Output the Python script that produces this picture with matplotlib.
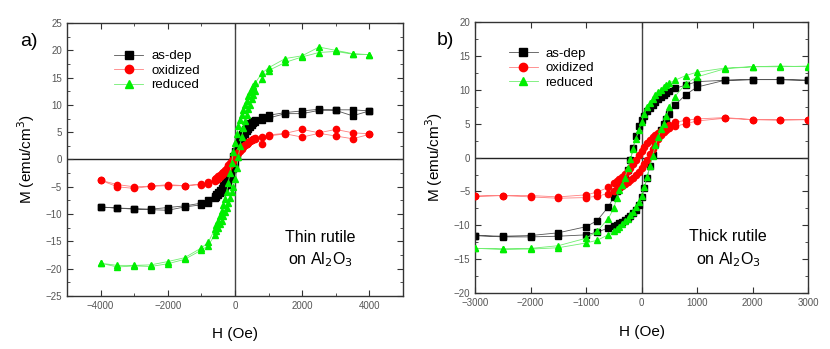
import matplotlib
matplotlib.use("Agg")
import matplotlib.pyplot as plt
from matplotlib.ticker import MultipleLocator

# ---- panel a: thin rutile (field sweep 4000 -> -4000, then back) ----
H_a_down = [4000, 3500, 3000, 2500, 2000, 1500, 1000, 800,
            600, 550, 500, 450, 400, 350, 300, 250, 200, 150, 100, 50, 0,
            -50, -100, -150, -200, -250, -300, -350, -400, -450, -500, -550, -600,
            -800, -1000, -1500, -2000, -2500, -3000, -3500, -4000]
H_a_up = H_a_down[::-1]

asdep_a_down = [8.9, 9.1, 9.1, 9.2, 8.9, 8.6, 8.1, 7.7,
                7.3, 7.1, 6.9, 6.6, 6.3, 6.0, 5.6, 5.2, 4.7, 4.1, 3.4, 2.6, 1.6,
                0.6, -0.5, -1.6, -2.6, -3.4, -4.1, -4.7, -5.2, -5.6, -6.0, -6.3, -6.6,
                -7.4, -8.0, -8.5, -8.8, -9.1, -9.0, -8.9, -8.7]
asdep_a_up = [-8.7, -8.9, -9.1, -9.2, -9.3, -8.7, -8.3, -7.9,
              -7.1, -6.8, -6.5, -6.2, -5.9, -5.5, -5.1, -4.6, -4.1, -3.5, -2.7, -1.8, -0.8,
              0.4, 1.5, 2.5, 3.4, 4.1, 4.7, 5.2, 5.6, 6.0, 6.3, 6.6, 6.9,
              7.2, 7.6, 8.4, 8.4, 9.0, 9.0, 8.0, 8.9]

oxid_a_down = [4.7, 4.9, 5.5, 4.9, 5.5, 4.8, 4.5, 4.2,
               3.9, 3.7, 3.5, 3.3, 3.1, 2.9, 2.7, 2.4, 2.1, 1.8, 1.4, 1.0, 0.6,
               0.1, -0.3, -0.7, -1.1, -1.5, -1.9, -2.2, -2.5, -2.8, -3.1, -3.4, -3.6,
               -4.2, -4.6, -4.8, -4.6, -4.9, -5.0, -4.6, -3.8]
oxid_a_up = [-3.8, -5.0, -5.3, -4.9, -4.8, -4.8, -4.5, -4.5,
             -3.9, -3.7, -3.5, -3.2, -2.9, -2.6, -2.3, -1.9, -1.5, -1.1, -0.6, -0.2, 0.3,
             0.8, 1.2, 1.6, 2.0, 2.3, 2.6, 2.9, 3.2, 3.4, 3.6, 3.7, 3.8,
             2.9, 4.3, 4.7, 4.1, 4.8, 4.3, 3.8, 4.6]

red_a_down = [19.2, 19.4, 20.0, 20.6, 19.0, 18.5, 16.8, 15.8,
              14.0, 13.5, 13.0, 12.4, 11.7, 10.8, 10.0, 9.1, 8.2, 7.2, 6.2, 4.6, 3.0,
              1.3, -0.6, -2.5, -4.3, -6.0, -7.2, -8.4, -9.5, -10.3, -11.3, -12.0, -12.8,
              -15.2, -16.2, -18.0, -18.7, -19.3, -19.4, -19.4, -19.0]
red_a_up = [-19.0, -19.7, -19.5, -19.6, -19.1, -18.3, -16.6, -15.8,
            -13.8, -13.1, -12.5, -11.9, -11.2, -10.4, -9.6, -8.8, -7.9, -7.0, -6.0, -5.0, -3.6,
            -1.6, 0.5, 2.4, 4.2, 5.8, 7.0, 8.2, 9.2, 10.0, 11.0, 11.8, 12.6,
            14.8, 16.3, 17.8, 18.8, 19.6, 19.8, 19.3, 19.2]

# ---- panel b: thick rutile (field sweep 3000 -> -3000, then back) ----
H_b_down = [3000, 2500, 2000, 1500, 1000, 800, 600,
            500, 450, 400, 350, 300, 250, 200, 150, 100, 50, 0,
            -50, -100, -150, -200, -250, -300, -350, -400, -450, -500,
            -600, -800, -1000, -1500, -2000, -2500, -3000]
H_b_up = H_b_down[::-1]

asdep_b_down = [11.4, 11.5, 11.5, 11.4, 11.2, 10.7, 10.2,
                9.8, 9.5, 9.2, 8.9, 8.6, 8.2, 7.8, 7.3, 6.8, 6.2, 5.5,
                4.6, 3.2, 1.4, -0.4, -1.9, -2.7, -3.5, -4.3, -5.0, -5.8,
                -7.3, -9.3, -10.2, -11.1, -11.5, -11.6, -11.5]
asdep_b_up = [-11.5, -11.7, -11.7, -11.6, -11.4, -11.0, -10.4,
              -10.1, -9.9, -9.7, -9.5, -9.2, -8.9, -8.6, -8.2, -7.7, -7.0, -5.8,
              -4.5, -3.0, -1.2, 0.4, 2.0, 3.2, 4.1, 4.9, 5.7, 6.5,
              7.7, 9.3, 10.4, 11.4, 11.5, 11.5, 11.4]

oxid_b_down = [5.6, 5.6, 5.6, 5.9, 5.7, 5.5, 5.2,
               4.8, 4.5, 4.2, 3.9, 3.6, 3.3, 3.0, 2.6, 2.1, 1.6, 1.0,
               0.4, -0.3, -0.9, -1.5, -2.0, -2.4, -2.8, -3.2, -3.5, -3.8,
               -4.4, -5.1, -5.5, -5.8, -5.6, -5.6, -5.7]
oxid_b_up = [-5.7, -5.6, -5.8, -6.0, -5.9, -5.7, -5.3,
             -5.0, -4.7, -4.5, -4.2, -3.9, -3.6, -3.3, -3.0, -2.6, -2.2, -1.6,
             -1.0, -0.4, 0.5, 1.3, 2.0, 2.8, 3.3, 3.7, 4.0, 4.3,
             4.6, 5.0, 5.4, 5.8, 5.6, 5.5, 5.6]

red_b_down = [13.4, 13.5, 13.4, 13.2, 12.6, 12.1, 11.4,
              11.0, 10.7, 10.4, 10.0, 9.6, 9.2, 8.7, 8.1, 7.4, 6.5, 5.2,
              4.0, 2.8, 1.3, -0.2, -1.6, -3.0, -4.0, -4.8, -6.0, -7.5,
              -9.0, -10.9, -11.9, -13.0, -13.4, -13.5, -13.4]
red_b_up = [-13.4, -13.5, -13.5, -13.3, -12.6, -12.2, -11.4,
            -10.8, -10.5, -10.2, -9.8, -9.4, -9.0, -8.5, -8.0, -7.3, -6.6, -5.7,
            -4.3, -2.8, -1.3, 0.2, 1.8, 3.0, 4.2, 5.0, 6.2, 7.5,
            9.0, 10.9, 11.9, 13.1, 13.4, 13.4, 13.5]

labels = ["as-dep", "oxidized", "reduced"]
colors = ["black", "#ff0000", "#00ee00"]
lcolors = ["#555555", "#ff8080", "#70ee70"]
markers = ["s", "o", "^"]

plt.rcParams["font.family"] = ["Liberation Sans", "DejaVu Sans"]

fig = plt.figure(figsize=(8.3, 3.49), dpi=100)
ax_a = fig.add_axes([0.0807, 0.152, 0.4048, 0.782])
ax_b = fig.add_axes([0.5723, 0.160, 0.4012, 0.777])

series_a = [(asdep_a_down, asdep_a_up), (oxid_a_down, oxid_a_up), (red_a_down, red_a_up)]
series_b = [(asdep_b_down, asdep_b_up), (oxid_b_down, oxid_b_up), (red_b_down, red_b_up)]

for ax, Hd, Hu, series in [(ax_a, H_a_down, H_a_up, series_a), (ax_b, H_b_down, H_b_up, series_b)]:
    ax.axhline(0, color="#222222", lw=1.0, zorder=1)
    ax.axvline(0, color="#444444", lw=1.0, zorder=1)
    for i, ((down, up), c, lc, m, lab) in enumerate(zip(series, colors, lcolors, markers, labels)):
        ax.plot(Hd + Hu, down + up, color=lc, lw=0.6, zorder=2 + i)
        ax.plot(Hd + Hu, down + up, ls="none", marker=m, color=c, ms=4.5, mec=c, zorder=2.5 + i)
        # legend proxy
        ax.plot([], [], color=lc, lw=0.6, marker=m, mfc=c, mec=c, ms=6, label=lab)
    ax.tick_params(which="both", direction="in", top=True, right=True,
                   labelsize=7, labelcolor="#555555", color="#333333")
    ax.tick_params(which="major", length=4)
    ax.tick_params(which="minor", length=2.5)
    for s in ax.spines.values():
        s.set_color("#333333")
        s.set_linewidth(1.0)
    ax.set_xlabel("H (Oe)", fontsize=11, labelpad=12)
    ax.set_ylabel("M (emu/cm$^3$)", fontsize=11, labelpad=6)
    ax.yaxis.set_major_locator(MultipleLocator(5))
    ax.yaxis.set_minor_locator(MultipleLocator(2.5))
    handles, labs = ax.get_legend_handles_labels()
    ax.legend(handles[-3:], labs[-3:], frameon=False, fontsize=9.5, loc="upper left",
              handlelength=2.2, labelspacing=0.18, handletextpad=0.6)

ax_a.set_xlim(-5000, 5000)
ax_a.set_ylim(-25, 25)
ax_a.xaxis.set_major_locator(MultipleLocator(2000))
ax_a.xaxis.set_minor_locator(MultipleLocator(1000))
ax_a.legend_.set_bbox_to_anchor((0.105, 0.945))

ax_b.set_xlim(-3000, 3000)
ax_b.set_ylim(-20, 20)
ax_b.xaxis.set_major_locator(MultipleLocator(1000))
ax_b.legend_.set_bbox_to_anchor((0.065, 0.95))

ax_a.text(2530, -14.2, "Thin rutile", ha="center", va="center", fontsize=11.5)
ax_a.text(2530, -18.4, "on Al$_2$O$_3$", ha="center", va="center", fontsize=11.5)
ax_b.text(1560, -11.7, "Thick rutile", ha="center", va="center", fontsize=11.5)
ax_b.text(1560, -15.0, "on Al$_2$O$_3$", ha="center", va="center", fontsize=11.5)

fig.text(0.024, 0.868, "a)", fontsize=14)
fig.text(0.526, 0.872, "b)", fontsize=14)

fig.savefig("out.png", dpi=100)
